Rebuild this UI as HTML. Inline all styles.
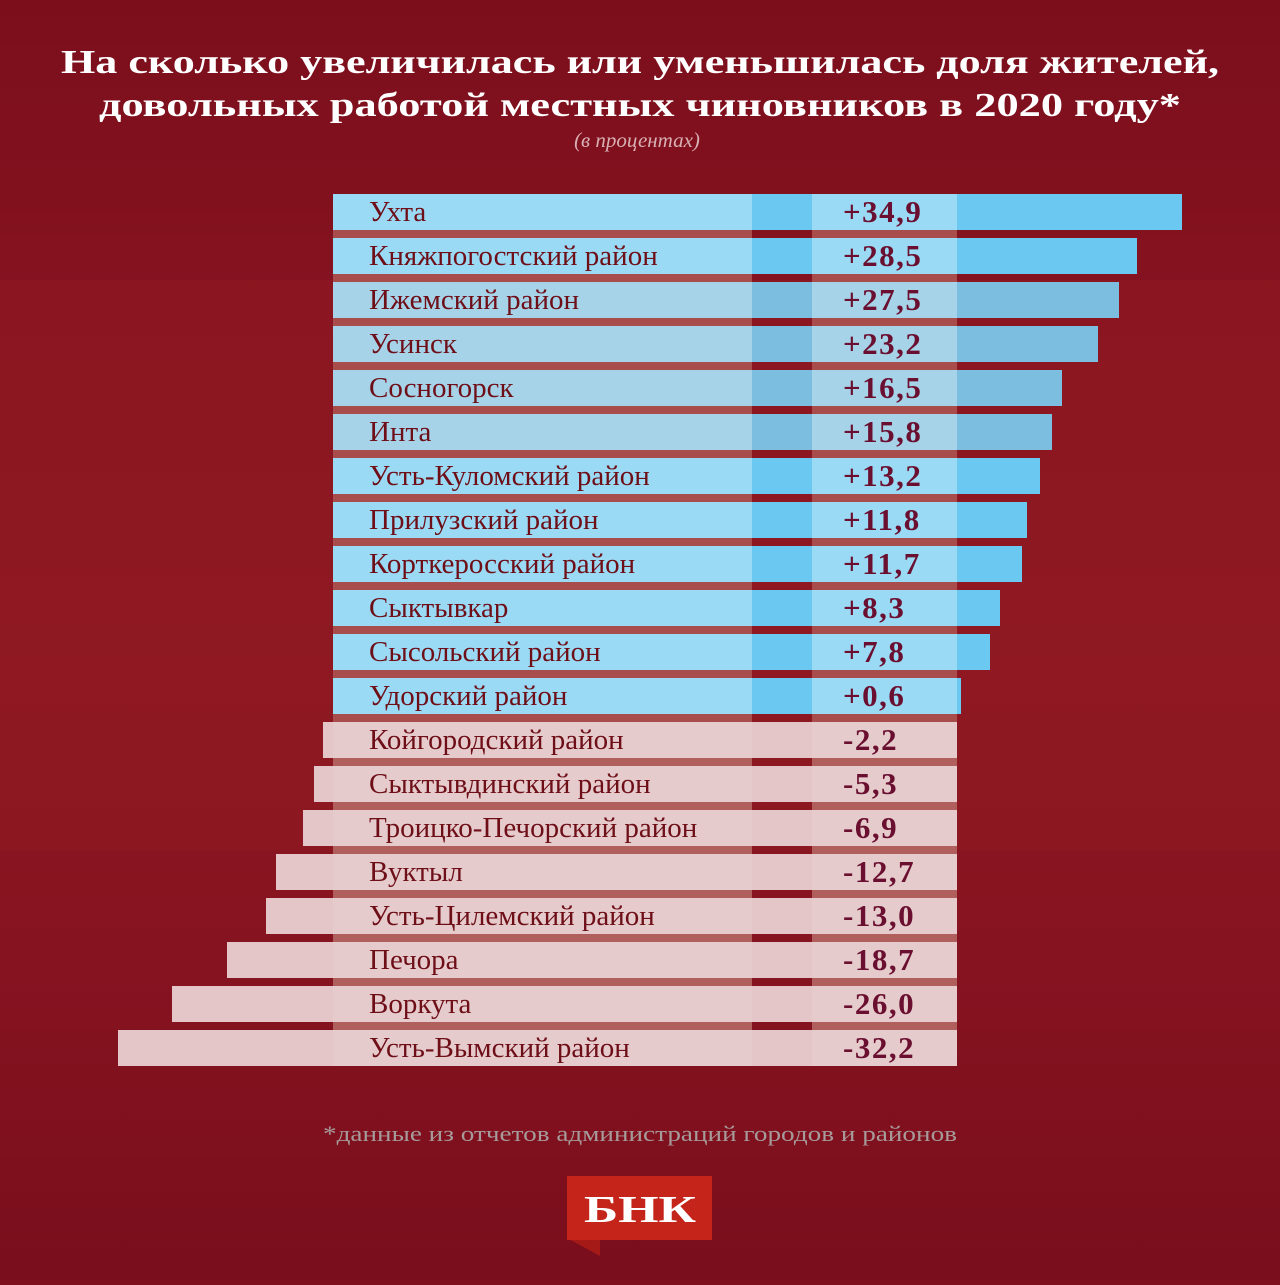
<!DOCTYPE html>
<html><head><meta charset="utf-8"><style>html,body{margin:0;padding:0;background:#7e0f1c}</style></head><body>
<svg width="1280" height="1280" viewBox="0 0 1280 1280" xmlns="http://www.w3.org/2000/svg" font-family="'Liberation Serif', serif">
<defs><linearGradient id="bg" x1="0" y1="0" x2="0" y2="1">
<stop offset="0" stop-color="#7c0e1c"/><stop offset="0.25" stop-color="#861320"/><stop offset="0.5" stop-color="#8d1822"/><stop offset="0.75" stop-color="#861320"/><stop offset="1" stop-color="#7a0e1c"/></linearGradient>
<clipPath id="bc">
<rect x="333" y="194" width="849" height="36"/>
<rect x="333" y="238" width="804" height="36"/>
<rect x="333" y="282" width="786" height="36"/>
<rect x="333" y="326" width="765" height="36"/>
<rect x="333" y="370" width="729" height="36"/>
<rect x="333" y="414" width="719" height="36"/>
<rect x="333" y="458" width="707" height="36"/>
<rect x="333" y="502" width="694" height="36"/>
<rect x="333" y="546" width="689" height="36"/>
<rect x="333" y="590" width="667" height="36"/>
<rect x="333" y="634" width="657" height="36"/>
<rect x="333" y="678" width="628" height="36"/>
</clipPath></defs>
<rect width="1280" height="1280" fill="url(#bg)"/>
<rect y="280" width="1280" height="570" fill="#931b24" opacity="0.4"/>
<text x="640" y="73" text-anchor="middle" font-weight="bold" font-size="34" fill="#fff" textLength="1158" lengthAdjust="spacingAndGlyphs">На сколько увеличилась или уменьшилась доля жителей,</text>
<text x="640" y="116" text-anchor="middle" font-weight="bold" font-size="34" fill="#fff" textLength="1082" lengthAdjust="spacingAndGlyphs">довольных работой местных чиновников в 2020 году*</text>
<text x="637" y="147" text-anchor="middle" font-style="italic" font-size="21" fill="#d8b0b4">(в процентах)</text>
<rect x="333" y="194" width="419" height="872" fill="#a84d4b"/>
<rect x="812" y="194" width="145" height="872" fill="#a84d4b"/>
<g>
<rect x="333" y="194" width="849" height="36" fill="#6ac8f1"/>
<rect x="333" y="238" width="804" height="36" fill="#6ac8f1"/>
<rect x="333" y="282" width="786" height="36" fill="#7cbedf"/>
<rect x="333" y="326" width="765" height="36" fill="#7cbedf"/>
<rect x="333" y="370" width="729" height="36" fill="#7cbedf"/>
<rect x="333" y="414" width="719" height="36" fill="#7cbedf"/>
<rect x="333" y="458" width="707" height="36" fill="#6ac8f1"/>
<rect x="333" y="502" width="694" height="36" fill="#6ac8f1"/>
<rect x="333" y="546" width="689" height="36" fill="#6ac8f1"/>
<rect x="333" y="590" width="667" height="36" fill="#6ac8f1"/>
<rect x="333" y="634" width="657" height="36" fill="#6ac8f1"/>
<rect x="333" y="678" width="628" height="36" fill="#6ac8f1"/>
<rect x="323" y="722" width="634" height="36" fill="#e4c6c8"/>
<rect x="314" y="766" width="643" height="36" fill="#e4c6c8"/>
<rect x="303" y="810" width="654" height="36" fill="#e4c6c8"/>
<rect x="276" y="854" width="681" height="36" fill="#e4c6c8"/>
<rect x="266" y="898" width="691" height="36" fill="#e4c6c8"/>
<rect x="227" y="942" width="730" height="36" fill="#e4c6c8"/>
<rect x="172" y="986" width="785" height="36" fill="#e4c6c8"/>
<rect x="118" y="1030" width="839" height="36" fill="#e4c6c8"/>
</g>
<g clip-path="url(#bc)" fill="#fff" opacity="0.33">
<rect x="333" y="194" width="419" height="520"/>
<rect x="812" y="194" width="145" height="520"/>
</g>
<g fill="#fff" opacity="0.1">
<rect x="333" y="722" width="419" height="344"/>
<rect x="812" y="722" width="145" height="344"/>
</g>
<g font-size="29" fill="#6e0f18">
<text x="369" y="221">Ухта</text>
<text x="369" y="265">Княжпогостский район</text>
<text x="369" y="309">Ижемский район</text>
<text x="369" y="353">Усинск</text>
<text x="369" y="397">Сосногорск</text>
<text x="369" y="441">Инта</text>
<text x="369" y="485">Усть-Куломский район</text>
<text x="369" y="529">Прилузский район</text>
<text x="369" y="573">Корткеросский район</text>
<text x="369" y="617">Сыктывкар</text>
<text x="369" y="661">Сысольский район</text>
<text x="369" y="705">Удорский район</text>
<text x="369" y="749">Койгородский район</text>
<text x="369" y="793">Сыктывдинский район</text>
<text x="369" y="837">Троицко-Печорский район</text>
<text x="369" y="881">Вуктыл</text>
<text x="369" y="925">Усть-Цилемский район</text>
<text x="369" y="969">Печора</text>
<text x="369" y="1013">Воркута</text>
<text x="369" y="1057">Усть-Вымский район</text>
</g>
<g font-size="31" font-weight="bold" fill="#6a0f30" letter-spacing="1.5">
<text x="843" y="222">+34,9</text>
<text x="843" y="266">+28,5</text>
<text x="843" y="310">+27,5</text>
<text x="843" y="354">+23,2</text>
<text x="843" y="398">+16,5</text>
<text x="843" y="442">+15,8</text>
<text x="843" y="486">+13,2</text>
<text x="843" y="530">+11,8</text>
<text x="843" y="574">+11,7</text>
<text x="843" y="618">+8,3</text>
<text x="843" y="662">+7,8</text>
<text x="843" y="706">+0,6</text>
<text x="843" y="750">-2,2</text>
<text x="843" y="794">-5,3</text>
<text x="843" y="838">-6,9</text>
<text x="843" y="882">-12,7</text>
<text x="843" y="926">-13,0</text>
<text x="843" y="970">-18,7</text>
<text x="843" y="1014">-26,0</text>
<text x="843" y="1058">-32,2</text>
</g>
<text x="640" y="1141" text-anchor="middle" font-size="22" fill="#a79a9a" textLength="634" lengthAdjust="spacingAndGlyphs">*данные из отчетов администраций городов и районов</text>
<polygon points="567,1238 600,1238 600,1256" fill="#a51a17"/>
<rect x="567" y="1176" width="145" height="64" fill="#c42419"/>
<text x="640" y="1222" text-anchor="middle" font-size="38" font-weight="bold" fill="#fff" textLength="112" lengthAdjust="spacingAndGlyphs">БНК</text>
</svg>
</body></html>
